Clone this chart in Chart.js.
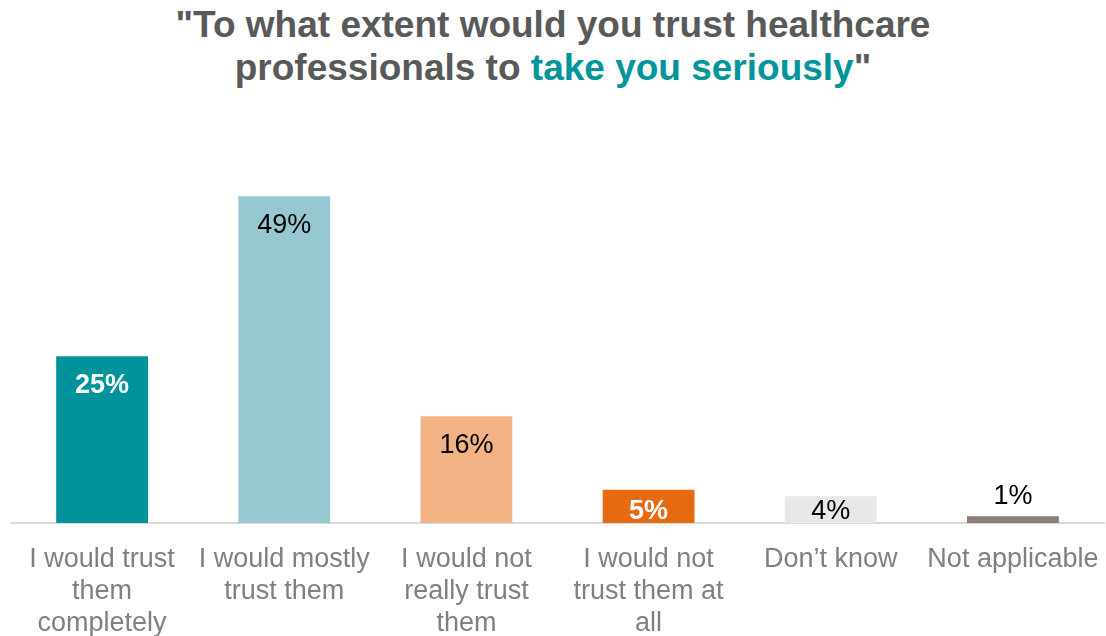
<!DOCTYPE html>
<html>
<head>
<meta charset="utf-8">
<script src="https://cdn.jsdelivr.net/npm/chart.js@4/dist/chart.umd.min.js"></script>
<style>
  html, body { margin: 0; padding: 0; background: #fff; }
  #wrap { position: relative; width: 1106px; height: 636px; overflow: hidden; }
  #titulo {
    position: absolute; left: 0; top: 3px; width: 1106px;
    text-align: center; font-family: "Liberation Sans", Arial, sans-serif;
    font-weight: bold; font-size: 37px; line-height: 43px; color: #595959;
  }
  #titulo .acento { color: #00959A; }
  canvas { position: absolute; left: 0; top: 0; }
</style>
</head>
<body>
<div id="wrap">
  <div id="titulo">"To what extent would you trust healthcare<br>professionals to <span class="acento">take you seriously</span>"</div>
  <canvas id="grafica" width="1106" height="636"></canvas>
</div>
<script>
// --- Datos ---
const categorias = [
    ['I would trust', 'them', 'completely'],
    ['I would mostly', 'trust them'],
    ['I would not', 'really trust', 'them'],
    ['I would not', 'trust them at', 'all'],
    'Don’t know',
    'Not applicable'
];
const porcentajes = [25, 49, 16, 5, 4, 1];

// --- Estilo de cada barra ---
const coloresBarras = ['#00939B', '#97C7D1', '#F2B384', '#E66A0F', '#E9E8E6', '#8C7D76'];
const coloresEtiqueta = ['#ffffff', '#000000', '#000000', '#ffffff', '#000000', '#000000'];
const etiquetaNegrita = [true, false, false, true, false, false];

// Etiquetas de valor dentro de la barra (o encima si la barra es muy baja)
const etiquetasValor = {
    id: 'etiquetasValor',
    afterDatasetsDraw(chart) {
        const { ctx } = chart;
        const meta = chart.getDatasetMeta(0);
        ctx.save();
        ctx.textAlign = 'center';
        ctx.textBaseline = 'middle';
        meta.data.forEach((barra, i) => {
            const alto = barra.base - barra.y;
            let y;
            if (alto < 15) {
                y = barra.y - 20;
            } else {
                y = Math.min(barra.y + 29, barra.base - 11);
            }
            ctx.font = (etiquetaNegrita[i] ? 'bold ' : '') + '27px "Liberation Sans", Arial, sans-serif';
            ctx.fillStyle = coloresEtiqueta[i];
            ctx.fillText(porcentajes[i] + '%', barra.x, y);
        });
        ctx.restore();
    }
};

new Chart(document.getElementById('grafica'), {
    type: 'bar',
    data: {
        labels: categorias,
        datasets: [{
            data: porcentajes,
            backgroundColor: coloresBarras,
            borderWidth: 0,
            categoryPercentage: 1,
            barPercentage: 0.504
        }]
    },
    options: {
        responsive: false,
        animation: false,
        layout: { padding: { top: 123, left: 11, right: 2, bottom: 0 } },
        plugins: {
            legend: { display: false },
            tooltip: { enabled: false },
            title: { display: false }
        },
        scales: {
            x: {
                grid: { display: false },
                border: { display: true, color: '#D9D9D9', width: 2 },
                ticks: {
                    color: '#808080',
                    font: { family: '"Liberation Sans", Arial, sans-serif', size: 27, lineHeight: 1.2 },
                    padding: 12,
                    maxRotation: 0,
                    autoSkip: false
                },
                afterFit: (escala) => {
                    escala.height = 113;
                    // sin margen extra a los lados por el ancho de las etiquetas
                    escala.paddingLeft = 0;
                    escala.paddingRight = 0;
                }
            },
            y: {
                display: false,
                min: 0,
                max: 60
            }
        }
    },
    plugins: [etiquetasValor]
});
</script>
</body>
</html>
